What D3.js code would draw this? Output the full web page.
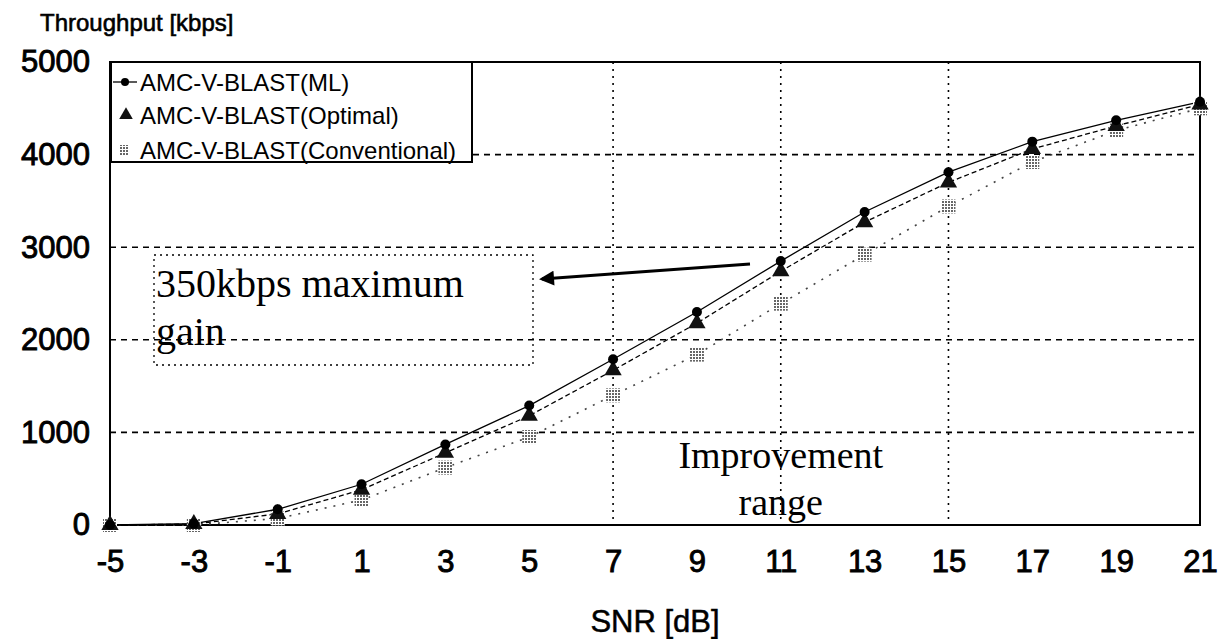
<!DOCTYPE html>
<meta charset="utf-8">
<script src="https://d3js.org/d3.v7.min.js"></script>
<style>
  body { margin: 0; background: #fff; }
  text { font-family: 'Liberation Sans', Arial, sans-serif; fill: #000; }
  .serif { font-family: 'Liberation Serif', 'Times New Roman', serif; }
</style>
<body>
<div id="chart"></div>
<script>
// data
var snr = [-5, -3, -1, 1, 3, 5, 7, 9, 11, 13, 15, 17, 19, 21];
var mlThroughput = [0, 15, 170, 440, 870, 1290, 1790, 2300, 2850, 3380, 3810, 4140, 4370, 4570];
var optimalThroughput = [0, 10, 120, 380, 780, 1180, 1670, 2180, 2740, 3270, 3700, 4060, 4310, 4540];
var conventionalThroughput = [0, 0, 70, 270, 620, 950, 1400, 1840, 2390, 2920, 3440, 3920, 4260, 4500];
var seriesNames = ["AMC-V-BLAST(ML)", "AMC-V-BLAST(Optimal)", "AMC-V-BLAST(Conventional)"];
var xTicks = [-5, -3, -1, 1, 3, 5, 7, 9, 11, 13, 15, 17, 19, 21];
var yTicks = [0, 1000, 2000, 3000, 4000, 5000];
var yGrid = [1000, 2000, 3000, 4000];
var xGrid = [7, 11, 15];

var W = 1218, H = 639;
var svg = d3.select("#chart").append("svg")
    .attr("width", W).attr("height", H);

var defs = svg.append("defs");
var pat = defs.append("pattern")
    .attr("id", "dots").attr("width", 3).attr("height", 3)
    .attr("patternUnits", "userSpaceOnUse");
pat.append("rect").attr("width", 3).attr("height", 3).attr("fill", "#fff");
pat.append("rect").attr("width", 2).attr("height", 2).attr("fill", "#666");

var x = d3.scaleLinear().domain([-5, 21]).range([110, 1200]);
var y = d3.scaleLinear().domain([0, 5000]).range([525, 62]);

// grid
svg.append("g").selectAll("line").data(yGrid).enter().append("line")
    .attr("x1", x(-5)).attr("x2", x(21))
    .attr("y1", function(d) { return y(d); }).attr("y2", function(d) { return y(d); })
    .attr("stroke", "#000").attr("stroke-width", 1.6).attr("stroke-dasharray", "6,5");
svg.append("g").selectAll("line").data(xGrid).enter().append("line")
    .attr("x1", function(d) { return x(d); }).attr("x2", function(d) { return x(d); })
    .attr("y1", y(5000)).attr("y2", y(0))
    .attr("stroke", "#000").attr("stroke-width", 1.6).attr("stroke-dasharray", "2,5");

// frame
svg.append("rect")
    .attr("x", x(-5)).attr("y", y(5000))
    .attr("width", x(21) - x(-5)).attr("height", y(0) - y(5000))
    .attr("fill", "none").attr("stroke", "#000").attr("stroke-width", 2);

// axes
var fmt = function(d) { return String(d); };
var xAxis = svg.append("g")
    .attr("transform", "translate(0," + y(0) + ")")
    .call(d3.axisBottom(x).tickValues(xTicks).tickSize(0).tickPadding(25).tickFormat(fmt));
xAxis.select(".domain").remove();
xAxis.selectAll("text").style("font-size", "31px").attr("fill", "#000")
    .attr("stroke", "#000").attr("stroke-width", 0.9);

var yAxis = svg.append("g")
    .attr("transform", "translate(" + x(-5) + ",0)")
    .call(d3.axisLeft(y).tickValues(yTicks).tickSize(0).tickPadding(20).tickFormat(fmt));
yAxis.select(".domain").remove();
yAxis.selectAll("text").style("font-size", "31px").attr("fill", "#000")
    .attr("stroke", "#000").attr("stroke-width", 0.9);

svg.append("text").attr("x", 40).attr("y", 31)
    .attr("stroke", "#000").attr("stroke-width", 0.6)
    .style("font-size", "24px").text("Throughput [kbps]");
svg.append("text").attr("x", (x(-5) + x(21)) / 2).attr("y", 632)
    .attr("text-anchor", "middle").attr("stroke", "#000").attr("stroke-width", 0.5)
    .style("font-size", "31px").text("SNR [dB]");

// annotation
svg.append("rect")
    .attr("x", 154).attr("y", 255).attr("width", 379).attr("height", 110)
    .attr("fill", "none").attr("stroke", "#000").attr("stroke-width", 1.3)
    .attr("stroke-dasharray", "2,4");
svg.append("text").attr("class", "serif").attr("x", 156).attr("y", 297)
    .style("font-size", "40px").text("350kbps maximum");
svg.append("text").attr("class", "serif").attr("x", 156).attr("y", 345)
    .style("font-size", "40px").text("gain");

defs.append("marker").attr("id", "arrow")
    .attr("viewBox", "0 0 10 10").attr("refX", 8).attr("refY", 5)
    .attr("markerWidth", 5.5).attr("markerHeight", 5).attr("orient", "auto")
  .append("path").attr("d", "M0,0L10,5L0,10z").attr("fill", "#000");
svg.append("line")
    .attr("x1", 750).attr("y1", 264).attr("x2", 542).attr("y2", 279)
    .attr("stroke", "#000").attr("stroke-width", 3)
    .attr("marker-end", "url(#arrow)");

svg.append("text").attr("class", "serif").attr("x", x(11)).attr("y", 468)
    .attr("text-anchor", "middle").style("font-size", "38px").text("Improvement");
svg.append("text").attr("class", "serif").attr("x", x(11)).attr("y", 515)
    .attr("text-anchor", "middle").style("font-size", "38px").text("range");

// series
var series = [
  { name: seriesNames[2], values: conventionalThroughput, dash: "2,7", color: "#444", width: 1.6 },
  { name: seriesNames[1], values: optimalThroughput, dash: "5,3", color: "#000", width: 1.3 },
  { name: seriesNames[0], values: mlThroughput, dash: null, color: "#000", width: 1.3 }
];

var line = d3.line()
    .x(function(d) { return x(d[0]); })
    .y(function(d) { return y(d[1]); });

series.forEach(function(s) {
  svg.append("path")
    .datum(d3.zip(snr, s.values))
    .attr("d", line)
    .attr("fill", "none")
    .attr("stroke", s.color)
    .attr("stroke-width", s.width)
    .attr("stroke-dasharray", s.dash);
});

var tri = d3.symbol().type(d3.symbolTriangle).size(130);

svg.append("g").selectAll("rect").data(d3.zip(snr, conventionalThroughput)).enter().append("rect")
    .attr("x", function(d) { return x(d[0]) - 7; })
    .attr("y", function(d) { return y(d[1]) - 7; })
    .attr("width", 14).attr("height", 14)
    .attr("fill", "url(#dots)");

svg.append("g").selectAll("path").data(d3.zip(snr, optimalThroughput)).enter().append("path")
    .attr("d", tri)
    .attr("transform", function(d) { return "translate(" + x(d[0]) + "," + y(d[1]) + ")"; })
    .attr("fill", "#111");

svg.append("g").selectAll("circle").data(d3.zip(snr, mlThroughput)).enter().append("circle")
    .attr("cx", function(d) { return x(d[0]); })
    .attr("cy", function(d) { return y(d[1]); })
    .attr("r", 5).attr("fill", "#000");

// legend
var lg = svg.append("g");
lg.append("rect").attr("x", 111).attr("y", 62).attr("width", 361).attr("height", 100)
    .attr("fill", "#fff").attr("stroke", "#000").attr("stroke-width", 2);
var rows = [82, 115, 150];
lg.append("line").attr("x1", 113).attr("x2", 137).attr("y1", rows[0]).attr("y2", rows[0])
    .attr("stroke", "#000").attr("stroke-width", 1.3);
lg.append("circle").attr("cx", 125).attr("cy", rows[0]).attr("r", 4).attr("fill", "#000");
lg.append("path").attr("d", d3.symbol().type(d3.symbolTriangle).size(80))
    .attr("transform", "translate(126," + rows[1] + ")").attr("fill", "#111");
lg.append("rect").attr("x", 119).attr("y", rows[2] - 5).attr("width", 10).attr("height", 10)
    .attr("fill", "url(#dots)");
lg.selectAll("text").data(seriesNames).enter().append("text")
    .attr("x", 140)
    .attr("y", function(d, i) { return rows[i]; })
    .attr("dy", "0.36em")
    .style("font-size", "24px")
    .text(function(d) { return d; });
</script>
</body>
